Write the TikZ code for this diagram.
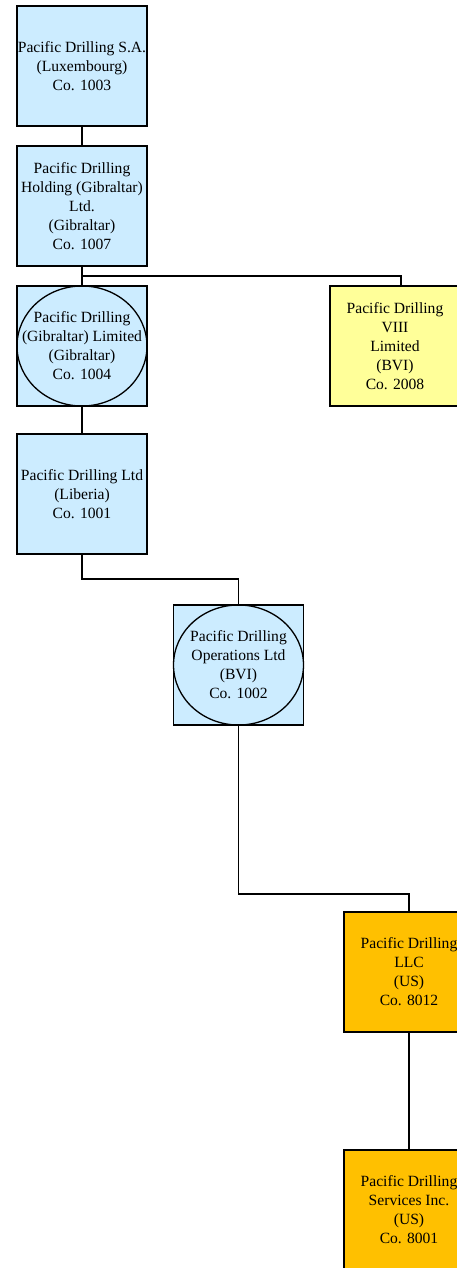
\documentclass[tikz,border=0pt]{standalone}
\usepackage{fontspec}
\setmainfont{Liberation Serif}
\usetikzlibrary{positioning}

\definecolor{coblue}{HTML}{CCECFF}
\definecolor{coyellow}{HTML}{FFFF99}
\definecolor{coorange}{HTML}{FFC000}

\tikzset{
    company/.style={draw=black, line width=1.3pt, minimum width=130pt, minimum height=120pt,
        inner sep=0pt, outer sep=0pt, align=center, font=\fontsize{15.6}{19}\selectfont},
    own/.style={company, fill=coblue},
    bvi/.style={company, fill=coyellow},
    us/.style={company, fill=coorange},
    link/.style={draw=black, line width=1.3pt},
}

\begin{document}
\begin{tikzpicture}[x=1pt, y=1pt, node distance=20pt]
    \useasboundingbox (0,0) rectangle (457,-1268);

    \node [own] (sa) at (82,-66) {Pacific Drilling S.A.\\(Luxembourg)\\Co. 1003};
    \node [own, below=of sa] (hold) {Pacific Drilling\\Holding (Gibraltar)\\Ltd.\\(Gibraltar)\\Co. 1007};
    \node [own, below=of hold] (gib) {};
    \node [bvi, right=of gib, xshift=163pt] (viii) {Pacific Drilling\\VIII\\Limited\\(BVI)\\Co. 2008};
    \node [own, below=of gib, yshift=-8pt] (ltd) {Pacific Drilling Ltd\\(Liberia)\\Co. 1001};
    \node [own, below=of ltd, xshift=156.5pt, yshift=-31pt] (ops) {};
    \node [us, below=of ops, xshift=170.5pt, yshift=-167pt] (llc) {Pacific Drilling\\LLC\\(US)\\Co. 8012};
    \node [us, below=of llc, yshift=-98pt] (svc) {Pacific Drilling\\Services Inc.\\(US)\\Co. 8001};

    % circled entities
    \draw [link] (gib.center) ellipse [x radius=65pt, y radius=60pt];
    \node [align=center, font=\fontsize{15.6}{19}\selectfont] at (gib.center) {Pacific Drilling\\(Gibraltar) Limited\\(Gibraltar)\\Co. 1004};
    \draw [link] (ops.center) ellipse [x radius=65pt, y radius=60pt];
    \node [align=center, font=\fontsize{15.6}{19}\selectfont] at (ops.center) {Pacific Drilling\\Operations Ltd\\(BVI)\\Co. 1002};

    \draw [link] (sa.south) -- (hold.north);
    \draw [link] (hold.south) -- (gib.north);
    \draw [link] (hold.south) -- ++(0,-10pt) -| ([xshift=6pt]viii.north);
    \draw [link] (gib.south) -- (ltd.north);
    \draw [link] (ltd.south) -- ++(0,-25pt) -| (ops.north);
    \draw [link] (ops.south) -- ++(0,-169pt) -| (llc.north);
    \draw [link] (llc.south) -- (svc.north);
\end{tikzpicture}
\end{document}
